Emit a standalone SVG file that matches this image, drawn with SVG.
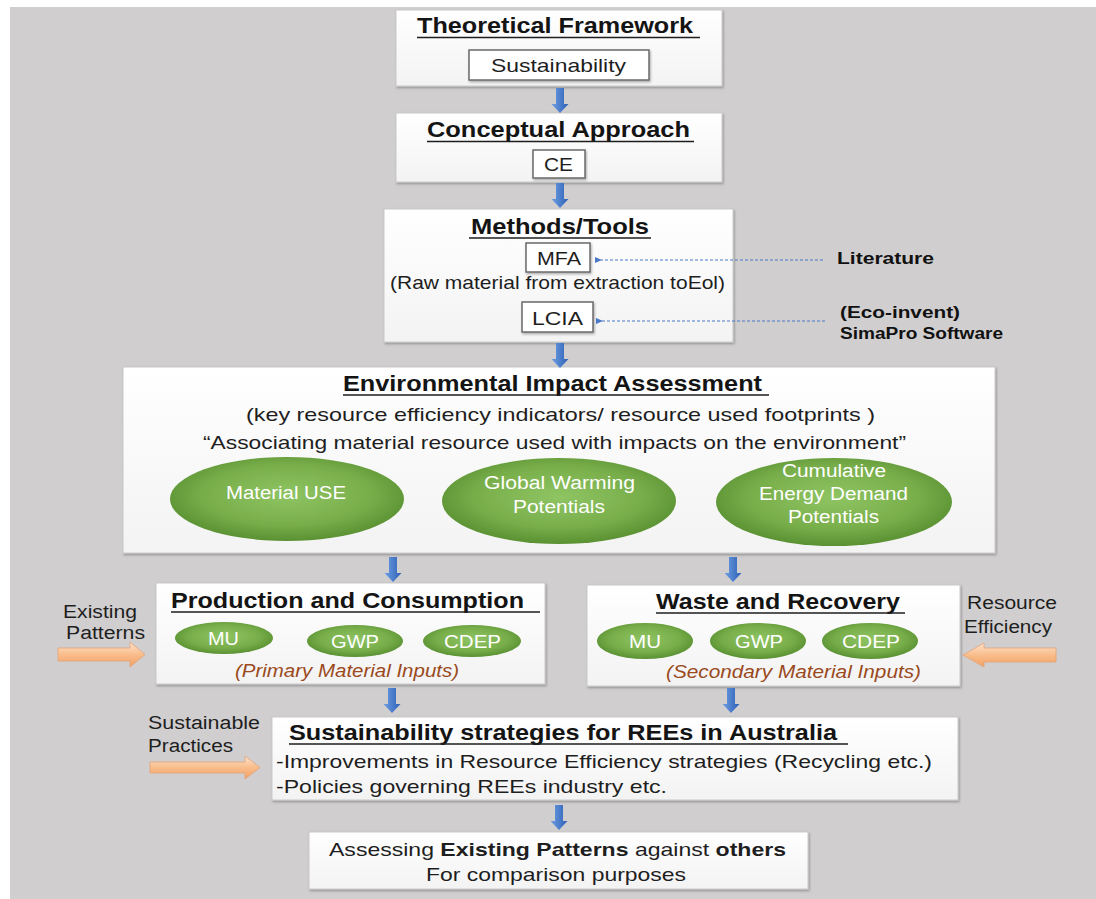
<svg xmlns="http://www.w3.org/2000/svg" width="1096" height="899" viewBox="0 0 1096 899">
  <style>
    text { font-family: "Liberation Sans", Arial, sans-serif; fill: #1e1e1e; }
    .title { font-weight: bold; font-size: 22px; fill: #141414; }
    .body { font-size: 19px; }
    .side { font-size: 18px; }
    .note { font-weight: bold; font-size: 16px; fill: #111; }
    .oval-label { font-size: 18px; fill: #ffffff; }
    .inputs { font-style: italic; font-size: 18px; fill: #9a4a1c; }
    .panel { fill: url(#panelFill); stroke: #c9c9c9; stroke-width: 1; filter: url(#shadow); }
    .tag { fill: #ffffff; stroke: #6a6a6a; stroke-width: 1.5; filter: url(#shadow); }
    .uline { stroke: #1e1e1e; stroke-width: 1.6; }
    .oval { fill: url(#greenFill); filter: url(#soft); }
    .down { fill: url(#blueFill); }
    .side-arrow { fill: url(#orangeFill); stroke: #e3a277; stroke-width: 0.8; }
    .dots { stroke: #4a78c8; stroke-width: 1.2; stroke-dasharray: 3 2; fill: none; }
  </style>
  <defs>
    <linearGradient id="panelFill" x1="0" y1="0" x2="0" y2="1">
      <stop offset="0" stop-color="#ffffff"/>
      <stop offset="1" stop-color="#f3f3f3"/>
    </linearGradient>
    <radialGradient id="greenFill" cx="0.5" cy="0.45" r="0.55">
      <stop offset="0" stop-color="#8fc463"/>
      <stop offset="0.65" stop-color="#78ae4a"/>
      <stop offset="1" stop-color="#5a9132"/>
    </radialGradient>
    <linearGradient id="blueFill" x1="0" y1="0" x2="1" y2="0">
      <stop offset="0" stop-color="#6e9fe2"/>
      <stop offset="1" stop-color="#2d5fb6"/>
    </linearGradient>
    <linearGradient id="orangeFill" x1="0" y1="0" x2="0" y2="1">
      <stop offset="0" stop-color="#fde3cc"/>
      <stop offset="0.5" stop-color="#f9bd8c"/>
      <stop offset="1" stop-color="#f0a163"/>
    </linearGradient>
    <filter id="shadow" x="-5%" y="-10%" width="110%" height="125%">
      <feDropShadow dx="1" dy="1.5" stdDeviation="1.2" flood-color="#000" flood-opacity="0.3"/>
    </filter>
    <filter id="soft" x="-5%" y="-10%" width="110%" height="120%">
      <feGaussianBlur stdDeviation="0.7"/>
    </filter>
    <marker id="tip" viewBox="0 0 6 6" refX="1" refY="3" markerWidth="6" markerHeight="6" orient="auto">
      <path d="M6,0.5 L0,3 L6,5.5 Z" fill="#4a78c8"/>
    </marker>
    <path id="downArrow" d="M-4,0 H4 V16 H8.5 L0,25 L-8.5,16 H-4 Z"/>
  </defs>

  <!-- canvas -->
  <rect x="0" y="0" width="1096" height="899" fill="#ffffff"/>
  <rect x="10" y="7" width="1086" height="892" fill="#d0cecf"/>

  <g id="theoretical-framework">
    <rect class="panel" x="396" y="10" width="326" height="76"/>
    <text class="title" x="417" y="33" textLength="276" lengthAdjust="spacingAndGlyphs">Theoretical Framework</text>
    <line class="uline" x1="417" y1="37.5" x2="700" y2="37.5"/>
    <rect class="tag" x="469" y="50" width="180" height="30"/>
    <text class="body" x="491" y="72" font-size="20" textLength="135" lengthAdjust="spacingAndGlyphs">Sustainability</text>
  </g>

  <g id="conceptual-approach">
    <rect class="panel" x="396" y="113" width="326" height="69"/>
    <text class="title" x="427" y="137" textLength="263" lengthAdjust="spacingAndGlyphs">Conceptual Approach</text>
    <line class="uline" x1="427" y1="141.5" x2="694" y2="141.5"/>
    <rect class="tag" x="533" y="150" width="52" height="28"/>
    <text class="body" x="544" y="171" textLength="29" lengthAdjust="spacingAndGlyphs">CE</text>
  </g>

  <g id="methods-tools">
    <rect class="panel" x="384" y="209" width="349" height="133"/>
    <text class="title" x="471" y="234" textLength="178" lengthAdjust="spacingAndGlyphs">Methods/Tools</text>
    <line class="uline" x1="469" y1="238" x2="651" y2="238"/>
    <rect class="tag" x="526" y="243" width="64" height="29"/>
    <text class="body" x="537" y="265" textLength="44" lengthAdjust="spacingAndGlyphs">MFA</text>
    <text class="body" x="390" y="289" textLength="335" lengthAdjust="spacingAndGlyphs">(Raw material from extraction toEol)</text>
    <rect class="tag" x="522" y="302" width="71" height="30"/>
    <text class="body" x="532" y="325" font-size="21" textLength="51" lengthAdjust="spacingAndGlyphs">LCIA</text>
  </g>

  <g id="literature">
    <text class="note" x="837" y="264" textLength="97" lengthAdjust="spacingAndGlyphs">Literature</text>
  </g>

  <g id="simapro">
    <text class="note" x="840" y="318" textLength="120" lengthAdjust="spacingAndGlyphs">(Eco-invent)</text>
    <text class="note" x="840" y="339" textLength="163" lengthAdjust="spacingAndGlyphs">SimaPro Software</text>
  </g>

  <g id="environmental-impact-assessment">
    <rect class="panel" x="123" y="367" width="872" height="186"/>
    <text class="title" x="343" y="391" textLength="419" lengthAdjust="spacingAndGlyphs">Environmental Impact Assessment</text>
    <line class="uline" x1="343" y1="395" x2="769" y2="395"/>
    <text class="body" x="246" y="421" textLength="629" lengthAdjust="spacingAndGlyphs">(key resource efficiency indicators/ resource used footprints )</text>
    <text class="body" x="203" y="449" textLength="703" lengthAdjust="spacingAndGlyphs">“Associating material resource used with impacts on the environment”</text>
    <ellipse class="oval" cx="287" cy="499" rx="117" ry="42"/>
    <text class="oval-label" x="226" y="499" textLength="120" lengthAdjust="spacingAndGlyphs">Material USE</text>
    <ellipse class="oval" cx="559" cy="501" rx="117" ry="43"/>
    <text class="oval-label" x="484" y="489" textLength="151" lengthAdjust="spacingAndGlyphs">Global Warming</text>
    <text class="oval-label" x="513" y="513" textLength="92" lengthAdjust="spacingAndGlyphs">Potentials</text>
    <ellipse class="oval" cx="834" cy="502" rx="118" ry="44"/>
    <text class="oval-label" x="782" y="477" textLength="104" lengthAdjust="spacingAndGlyphs">Cumulative</text>
    <text class="oval-label" x="759" y="500" textLength="149" lengthAdjust="spacingAndGlyphs">Energy Demand</text>
    <text class="oval-label" x="788" y="523" textLength="91" lengthAdjust="spacingAndGlyphs">Potentials</text>
  </g>

  <g id="existing-patterns">
    <text class="side" x="63" y="618" textLength="74" lengthAdjust="spacingAndGlyphs">Existing</text>
    <text class="side" x="66" y="639" textLength="79" lengthAdjust="spacingAndGlyphs">Patterns</text>
  </g>

  <g id="production-consumption">
    <rect class="panel" x="156" y="583" width="389" height="101"/>
    <text class="title" x="171" y="608" textLength="353" lengthAdjust="spacingAndGlyphs">Production and Consumption</text>
    <line class="uline" x1="171" y1="612" x2="540" y2="612"/>
    <ellipse class="oval" cx="224" cy="638" rx="49" ry="16"/>
    <text class="oval-label" x="208" y="645" textLength="31" lengthAdjust="spacingAndGlyphs">MU</text>
    <ellipse class="oval" cx="355" cy="641" rx="48" ry="16"/>
    <text class="oval-label" x="331" y="648" textLength="48" lengthAdjust="spacingAndGlyphs">GWP</text>
    <ellipse class="oval" cx="472" cy="641" rx="49" ry="16"/>
    <text class="oval-label" x="444" y="648" textLength="57" lengthAdjust="spacingAndGlyphs">CDEP</text>
    <text class="inputs" x="235" y="677" textLength="224" lengthAdjust="spacingAndGlyphs">(Primary Material Inputs)</text>
  </g>

  <g id="waste-recovery">
    <rect class="panel" x="587" y="585" width="373" height="101"/>
    <text class="title" x="656" y="609" textLength="244" lengthAdjust="spacingAndGlyphs">Waste and Recovery</text>
    <line class="uline" x1="656" y1="613" x2="905" y2="613"/>
    <ellipse class="oval" cx="645" cy="641" rx="48" ry="18"/>
    <text class="oval-label" x="629" y="648" textLength="32" lengthAdjust="spacingAndGlyphs">MU</text>
    <ellipse class="oval" cx="758" cy="641" rx="48" ry="18"/>
    <text class="oval-label" x="735" y="648" textLength="48" lengthAdjust="spacingAndGlyphs">GWP</text>
    <ellipse class="oval" cx="870" cy="641" rx="48" ry="18"/>
    <text class="oval-label" x="842" y="648" textLength="58" lengthAdjust="spacingAndGlyphs">CDEP</text>
    <text class="inputs" x="666" y="678" textLength="255" lengthAdjust="spacingAndGlyphs">(Secondary Material Inputs)</text>
  </g>

  <g id="resource-efficiency">
    <text class="side" x="967" y="609" textLength="90" lengthAdjust="spacingAndGlyphs">Resource</text>
    <text class="side" x="964" y="633" textLength="88" lengthAdjust="spacingAndGlyphs">Efficiency</text>
  </g>

  <g id="sustainable-practices">
    <text class="side" x="148" y="729" textLength="112" lengthAdjust="spacingAndGlyphs">Sustainable</text>
    <text class="side" x="148" y="752" textLength="85" lengthAdjust="spacingAndGlyphs">Practices</text>
  </g>

  <g id="sustainability-strategies">
    <rect class="panel" x="272" y="717" width="686" height="83"/>
    <text class="title" x="289" y="740" textLength="548" lengthAdjust="spacingAndGlyphs">Sustainability strategies for REEs in Australia</text>
    <line class="uline" x1="289" y1="744" x2="848" y2="744"/>
    <text class="body" x="276" y="768" font-size="21" textLength="656" lengthAdjust="spacingAndGlyphs">-Improvements in Resource Efficiency strategies (Recycling etc.)</text>
    <text class="body" x="276" y="793" font-size="21" textLength="391" lengthAdjust="spacingAndGlyphs">-Policies governing REEs industry etc.</text>
  </g>

  <g id="assessing-patterns">
    <rect class="panel" x="309" y="832" width="499" height="57"/>
    <text class="body" x="329" y="856" font-size="20" textLength="457" lengthAdjust="spacingAndGlyphs">Assessing <tspan font-weight="bold">Existing Patterns</tspan> against <tspan font-weight="bold">others</tspan></text>
    <text class="body" x="426" y="881" font-size="20" textLength="260" lengthAdjust="spacingAndGlyphs">For comparison purposes</text>
  </g>

  <!-- flow connectors, drawn last so the dotted leaders sit on top of the panels -->
  <g id="connectors">
    <use href="#downArrow" class="down" x="560" y="88"/>
    <use href="#downArrow" class="down" x="560" y="183"/>
    <use href="#downArrow" class="down" x="560" y="343"/>
    <use href="#downArrow" class="down" x="393" y="557"/>
    <use href="#downArrow" class="down" x="733" y="557"/>
    <use href="#downArrow" class="down" x="392" y="688"/>
    <use href="#downArrow" class="down" x="731" y="688"/>
    <use href="#downArrow" class="down" x="559" y="805"/>
    <line class="dots" x1="823" y1="260" x2="601" y2="260" marker-end="url(#tip)"/>
    <line class="dots" x1="825" y1="321" x2="602" y2="321" marker-end="url(#tip)"/>
    <path class="side-arrow" d="M58,648 H130 V642 L145,654.5 L130,667 V661 H58 Z"/>
    <path class="side-arrow" d="M1056,648 H984 V643 L963,655 L984,667 V662 H1056 Z"/>
    <path class="side-arrow" d="M150,762 H245 V756 L260,767.5 L245,779 V773 H150 Z"/>
  </g>
</svg>
